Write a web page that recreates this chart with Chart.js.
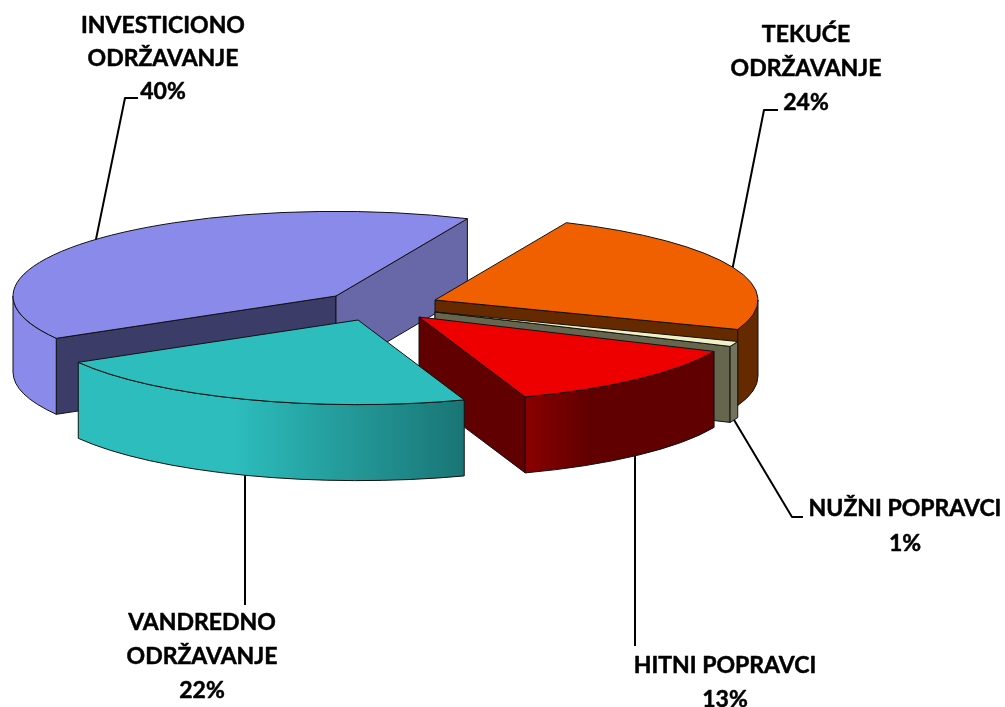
<!DOCTYPE html>
<html>
<head>
<meta charset="utf-8">
<title>Odrzavanje</title>
<style>
    html, body { margin: 0; padding: 0; background: #ffffff; }
    canvas { display: block; }
</style>
<script src="https://cdn.jsdelivr.net/npm/chart.js@4"></script>
</head>
<body>
<canvas id="chart-1" width="1005" height="707"></canvas>
<script>
// data, in the order of the pie, clockwise
const categories = ["TEKUĆE ODRŽAVANJE", "NUŽNI POPRAVCI", "HITNI POPRAVCI", "VANDREDNO ODRŽAVANJE", "INVESTICIONO ODRŽAVANJE"];
const values = [24, 1, 13, 22, 40];

// colours
const topColors = ["#F06000", "#F0F0C4", "#EE0000", "#2DBDBD", "#8A8AEA"];
const startWallColors = ["#6868A8", "#6868A8", "#6868A8", "#6868A8", "#3C3C68"];
const endWallColors = ["#652A00", "#66664F", "#600000", "#1A7575", "#6868A8"];
const outerWallLeft = ["#652A00", "#73735C", "#8A0000", "#2DBDBD", "#8A8AEA"];
const outerWallRight = ["#652A00", "#73735C", "#600000", "#1A7575", "#8A8AEA"];
const outerWallFade = [[0, 1], [0, 1], [0, 0.35], [0.4, 1], [0, 1]];

// layout of the fake 3D
const pieCenter = { x: 385, y: 305 };
const squash = 0.262;
const wallDepth = 76;
const sliceShift = [[50, -5], [50, 7], [34, 12], [-27, 15], [-49, -9]];
const paintOrder = [4, 0, 1, 2, 3];

// labels: [x, first line y], leader: points after the one on the slice
const labelLines = [["TEKUĆE", "ODRŽAVANJE"], ["NUŽNI POPRAVCI"], ["HITNI POPRAVCI"], ["VANDREDNO", "ODRŽAVANJE"], ["INVESTICIONO", "ODRŽAVANJE"]];
const labelPos = [[806, 35], [905, 509], [725, 666], [202, 623], [163, 26]];
const labelLineHeight = [34, 35, 34, 34, 33];
const leaderPoints = [
    [[764, 110], [778, 110]],
    [[792, 517], [803, 517]],
    [[635, 646]],
    [[245, 605]],
    [[125, 98], [138, 98]]
];

/**
 * Builds a path with the pie transform of one slice, the stroke stays 1px wide
 */
function slicePath(ctx, arc, i, build) {
    ctx.save();
    ctx.translate(pieCenter.x + sliceShift[i][0], pieCenter.y + sliceShift[i][1]);
    ctx.scale(1, squash);
    ctx.translate(-arc.x, -arc.y);
    ctx.beginPath();
    build();
    ctx.restore();
}

/**
 * Position on screen of a point of the slice
 */
function project(arc, i, angle, depth) {
    return {
        x: pieCenter.x + sliceShift[i][0] + Math.cos(angle) * arc.outerRadius,
        y: pieCenter.y + sliceShift[i][1] + Math.sin(angle) * arc.outerRadius * squash + depth
    };
}

function fillWall(ctx, fill) {
    ctx.fillStyle = fill;
    ctx.fill();
    ctx.lineWidth = 1;
    ctx.strokeStyle = "#111111";
    ctx.stroke();
}

function drawRadialWall(ctx, arc, i, angle, fill) {
    const d = wallDepth / squash;
    slicePath(ctx, arc, i, function() {
        ctx.moveTo(arc.x, arc.y);
        ctx.lineTo(arc.x + Math.cos(angle) * arc.outerRadius, arc.y + Math.sin(angle) * arc.outerRadius);
        ctx.lineTo(arc.x + Math.cos(angle) * arc.outerRadius, arc.y + Math.sin(angle) * arc.outerRadius + d);
        ctx.lineTo(arc.x, arc.y + d);
        ctx.closePath();
    });
    fillWall(ctx, fill);
}

function drawOuterWall(ctx, arc, i) {
    const from = Math.max(arc.startAngle, 0);
    const to = Math.min(arc.endAngle, Math.PI);
    if (to <= from) {
        return;
    }
    const d = wallDepth / squash;
    slicePath(ctx, arc, i, function() {
        ctx.arc(arc.x, arc.y, arc.outerRadius, from, to);
        ctx.arc(arc.x, arc.y + d, arc.outerRadius, to, from, true);
        ctx.closePath();
    });
    const gradient = ctx.createLinearGradient(project(arc, i, to, 0).x, 0, project(arc, i, from, 0).x, 0);
    gradient.addColorStop(outerWallFade[i][0], outerWallLeft[i]);
    gradient.addColorStop(outerWallFade[i][1], outerWallRight[i]);
    fillWall(ctx, gradient);
}

function drawSlice(ctx, arc, i) {
    // only the walls that face the viewer
    if (Math.cos(arc.startAngle) < 0) {
        drawRadialWall(ctx, arc, i, arc.startAngle, startWallColors[i]);
    }
    if (Math.cos(arc.endAngle) > 0) {
        drawRadialWall(ctx, arc, i, arc.endAngle, endWallColors[i]);
    }
    drawOuterWall(ctx, arc, i);

    ctx.save();
    ctx.translate(pieCenter.x + sliceShift[i][0], pieCenter.y + sliceShift[i][1]);
    ctx.scale(1, squash);
    ctx.translate(-arc.x, -arc.y);
    arc.draw(ctx);
    ctx.restore();

    slicePath(ctx, arc, i, function() {
        ctx.moveTo(arc.x, arc.y);
        ctx.arc(arc.x, arc.y, arc.outerRadius, arc.startAngle, arc.endAngle);
        ctx.closePath();
    });
    ctx.lineWidth = 1;
    ctx.strokeStyle = "#111111";
    ctx.stroke();
}

function drawLabel(ctx, arc, i) {
    const points = leaderPoints[i];
    let angle = (arc.startAngle + arc.endAngle) / 2;
    // a leader with one point drops straight down from the wall
    if (points.length === 1) {
        angle = Math.acos((points[0][0] - pieCenter.x - sliceShift[i][0]) / arc.outerRadius);
    }
    const start = project(arc, i, angle, Math.sin(angle) > 0 ? wallDepth : 0);

    ctx.beginPath();
    ctx.moveTo(start.x, start.y);
    points.forEach(function(p) {
        ctx.lineTo(p[0], p[1]);
    });
    ctx.lineWidth = 2;
    ctx.lineJoin = "round";
    ctx.strokeStyle = "#000000";
    ctx.stroke();

    ctx.font = "bold 23px Lato";
    ctx.fillStyle = "#000000";
    ctx.textAlign = "center";
    ctx.textBaseline = "middle";
    ctx.lineWidth = 0.5;
    const lines = labelLines[i].concat([values[i] + "%"]);
    lines.forEach(function(line, n) {
        ctx.fillText(line, labelPos[i][0], labelPos[i][1] + n * labelLineHeight[i]);
        ctx.strokeText(line, labelPos[i][0], labelPos[i][1] + n * labelLineHeight[i]);
    });
}

const pie3d = {
    id: "pie3d",
    beforeDatasetsDraw: function(chart) {
        const ctx = chart.ctx;
        const arcs = chart.getDatasetMeta(0).data;
        paintOrder.forEach(function(i) {
            drawSlice(ctx, arcs[i], i);
        });
        arcs.forEach(function(arc, i) {
            drawLabel(ctx, arc, i);
        });
        return false;
    }
};

const dataChart = {
    labels: categories,
    datasets: [{
        data: values,
        backgroundColor: topColors,
        borderWidth: 0,
        clip: false
    }]
};

const configChart = {
    type: "pie",
    data: dataChart,
    plugins: [pie3d],
    options: {
        responsive: false,
        animation: false,
        events: [],
        rotation: 24,
        radius: 323,
        plugins: {
            legend: { display: false },
            tooltip: { enabled: false }
        }
    }
};

const chart = new Chart(document.getElementById("chart-1"), configChart);
</script>
</body>
</html>
